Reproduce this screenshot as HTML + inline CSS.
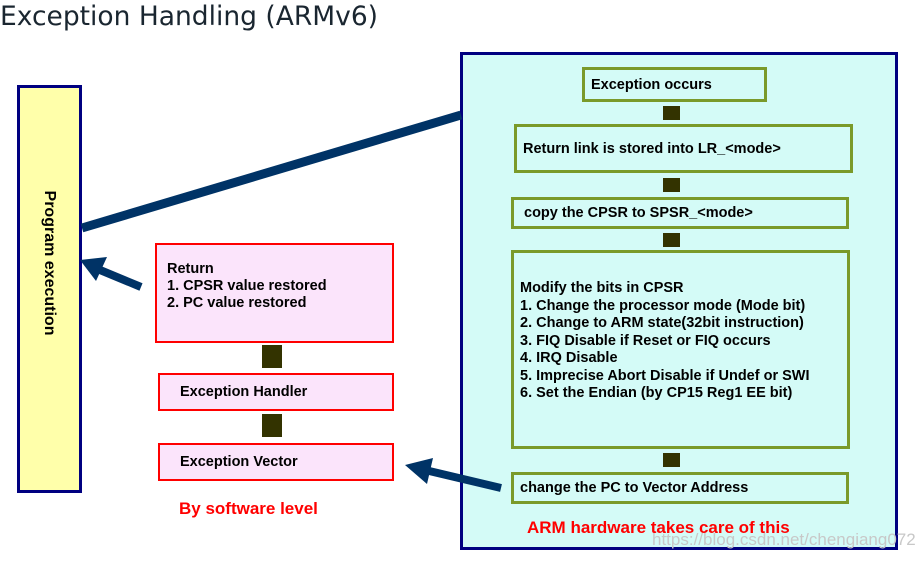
<!DOCTYPE html>
<html><head><meta charset="utf-8"><style>
body{margin:0;width:915px;height:561px;background:#fff;position:relative;overflow:hidden;font-family:"Liberation Sans",Arial,sans-serif}
.a{position:absolute;box-sizing:border-box}
.g{border:3px solid #7a9a2a;background:#d4fbf7;font-weight:bold;font-size:14.5px;color:#000;padding-left:6px;display:flex;align-items:center}
.p{border:2px solid #f00;background:#fbe4fb;font-weight:bold;font-size:14.5px;color:#000;padding-left:20px;display:flex;align-items:center}
.s{background:#333300}
.r{color:#f00;font-weight:bold;font-size:17px;white-space:nowrap}
</style></head><body>
<div class="a" style="left:0;top:1px;font-family:'DejaVu Sans',sans-serif;font-size:26.5px;color:#1a2630;white-space:nowrap">Exception Handling (ARMv6)</div>
<div class="a" style="left:17px;top:85px;width:65px;height:408px;background:#ffffaa;border:3px solid #000080"></div>
<div class="a" style="left:49px;top:263px;width:0;height:0"><div style="position:absolute;left:-80px;top:-9px;width:160px;text-align:center;transform:rotate(90deg);font-weight:bold;font-size:16px;white-space:nowrap">Program execution</div></div>
<div class="a" style="left:460px;top:52px;width:438px;height:498px;background:#d4fbf7;border:3px solid #000080"></div>
<div class="a g" style="left:582px;top:67px;width:185px;height:35px">Exception occurs</div>
<div class="a g" style="left:514px;top:124px;width:339px;height:49px">Return link is stored into LR_&lt;mode&gt;</div>
<div class="a g" style="left:511px;top:197px;width:338px;height:32px;padding-left:10px">copy the CPSR to SPSR_&lt;mode&gt;</div>
<div class="a g" style="left:511px;top:250px;width:339px;height:199px;display:block;padding-top:27px;line-height:17.5px">Modify the bits in CPSR<br>1. Change the processor mode (Mode bit)<br>2. Change to ARM state(32bit instruction)<br>3. FIQ Disable if Reset or FIQ occurs<br>4. IRQ Disable<br>5. Imprecise Abort Disable if Undef or SWI<br>6. Set the Endian (by CP15 Reg1 EE bit)</div>
<div class="a g" style="left:511px;top:472px;width:338px;height:32px">change the PC to Vector Address</div>
<div class="a s" style="left:663px;top:106px;width:17px;height:14px"></div>
<div class="a s" style="left:663px;top:178px;width:17px;height:14px"></div>
<div class="a s" style="left:663px;top:233px;width:17px;height:14px"></div>
<div class="a s" style="left:663px;top:453px;width:17px;height:14px"></div>
<div class="a p" style="left:155px;top:243px;width:239px;height:100px;display:block;padding-left:10px;padding-top:16px;line-height:17px">Return<br>1. CPSR value restored<br>2. PC value restored</div>
<div class="a p" style="left:158px;top:373px;width:236px;height:38px">Exception Handler</div>
<div class="a p" style="left:158px;top:443px;width:236px;height:38px">Exception Vector</div>
<div class="a s" style="left:262px;top:345px;width:20px;height:23px"></div>
<div class="a s" style="left:262px;top:414px;width:20px;height:23px"></div>
<div class="a r" style="left:179px;top:499px">By software level</div>
<div class="a r" style="left:527px;top:518px">ARM hardware takes care of this</div>
<div class="a" style="left:652px;top:530px;color:#c8c8c8;font-size:17px;white-space:nowrap">https://blog.csdn.net/chengiang0721</div>
<svg class="a" style="left:0;top:0" width="915" height="561">
<line x1="82" y1="228" x2="461" y2="115" stroke="#003366" stroke-width="9"/>
<line x1="141" y1="287" x2="100" y2="270" stroke="#003366" stroke-width="8"/>
<polygon points="80,260 107,257 96,281" fill="#003366"/>
<line x1="501" y1="488" x2="425" y2="470" stroke="#003366" stroke-width="8"/>
<polygon points="405,465 433,458 427,484" fill="#003366"/>
</svg>
</body></html>
